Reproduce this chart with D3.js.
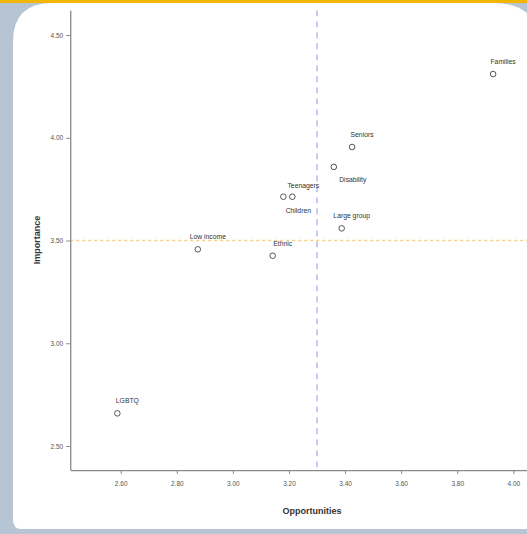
<!DOCTYPE html>
<html>
<head>
<meta charset="utf-8">
<script src="https://cdn.jsdelivr.net/npm/d3@7"></script>
<style>
  body { margin: 0; background: #b6c4d3; }
  svg { display: block; font-family: "Liberation Sans", Arial, sans-serif; }
</style>
</head>
<body>
<div id="chart"></div>
<script>
const w = 527,
  h = 534;

// groups (opportunities vs importance)
const groups = ["Families", "Seniors", "Disability", "Teenagers", "Children", "Large group", "Low income", "Ethnic", "LGBTQ"];
const opportunities = [3.928, 3.425, 3.36, 3.18, 3.212, 3.388, 2.875, 3.142, 2.588];
const importance = [4.31, 3.955, 3.858, 3.713, 3.713, 3.559, 3.457, 3.426, 2.659];
const labelPlace = ["above", "above", "belowRight", "aboveRight", "below", "above", "above", "above", "above"];

const xTicks = [2.6, 2.8, 3.0, 3.2, 3.4, 3.6, 3.8, 4.0];
const yTicks = [2.5, 3.0, 3.5, 4.0, 4.5];
const xRef = 3.3,
  yRef = 3.5;

const translateFn = (x, y = 0) => `translate(${x}, ${y})`;

const svg = d3.select("#chart").append("svg").attr("width", w).attr("height", h);

// frame
svg.append("rect").attr("width", w).attr("height", h).attr("fill", "#b6c4d3");
svg
  .append("path")
  .attr("d", "M13,42 Q13,3 52,3 L495,3 Q527,3 540,30 L540,529 L21,529 Q13,529 13,519 Z")
  .attr("fill", "#fff");
svg.append("rect").attr("width", w).attr("height", 3).attr("fill", "#f2b705");

// scales
const base = d3.scaleLinear().domain([2.6, 4.0]).range([120.7, 513.3]);
const xScale = d3
  .scaleLinear()
  .domain([2.42, 4.1])
  .range([base(2.42), base(4.1)]);
const baseY = d3.scaleLinear().domain([2.5, 4.5]).range([446, 35]);
const yScale = d3
  .scaleLinear()
  .domain([2.383, 4.62])
  .range([baseY(2.383), baseY(4.62)]);

const fmt = d3.format(".2f");

// reference lines
svg
  .append("line")
  .attr("x1", xScale(xRef))
  .attr("x2", xScale(xRef))
  .attr("y1", yScale(4.62))
  .attr("y2", yScale(2.383))
  .attr("stroke", "#8d98ea")
  .attr("stroke-width", 1)
  .attr("stroke-dasharray", "6,5");

svg
  .append("line")
  .attr("x1", xScale(2.42))
  .attr("x2", w)
  .attr("y1", yScale(yRef))
  .attr("y2", yScale(yRef))
  .attr("stroke", "#f8d08a")
  .attr("stroke-width", 1.3)
  .attr("stroke-dasharray", "3,3");

// axes
const xAxis = d3
  .axisBottom(xScale)
  .tickValues(xTicks)
  .tickFormat(fmt)
  .tickSize(4)
  .tickSizeOuter(0);
const yAxis = d3
  .axisLeft(yScale)
  .tickValues(yTicks)
  .tickFormat(fmt)
  .tickSize(4)
  .tickSizeOuter(0);

const gx = svg
  .append("g")
  .attr("transform", translateFn(0, yScale(2.383)))
  .call(xAxis);
const gy = svg
  .append("g")
  .attr("transform", translateFn(xScale(2.42), 0))
  .call(yAxis);

[gx, gy].forEach((g) => {
  g.select(".domain").attr("stroke", "#8a8a8a").attr("stroke-width", 1.3);
  g.selectAll(".tick line").attr("stroke", "#8a8a8a");
  g.selectAll(".tick text").attr("fill", "#555").style("font-size", "6.5px");
});
gx.selectAll(".tick text").attr("dy", "1.4em");

// axis titles
svg
  .append("text")
  .attr("x", 312)
  .attr("y", 514)
  .attr("text-anchor", "middle")
  .attr("font-weight", "bold")
  .attr("font-size", "9px")
  .attr("fill", "#333")
  .text("Opportunities");

svg
  .append("text")
  .attr("transform", "rotate(-90)")
  .attr("x", -240)
  .attr("y", 40)
  .attr("text-anchor", "middle")
  .attr("font-weight", "bold")
  .attr("font-size", "9px")
  .attr("fill", "#333")
  .text("Importance");

// points
const pts = svg
  .selectAll(".pt")
  .data(groups)
  .enter()
  .append("g")
  .attr("class", "pt")
  .attr("transform", (d, i) => translateFn(xScale(opportunities[i]), yScale(importance[i])));

pts
  .append("circle")
  .attr("r", 2.8)
  .attr("fill", "none")
  .attr("stroke", "#444")
  .attr("stroke-width", 0.9);

const offsets = {
  above: [10, -10],
  aboveRight: [20, -9],
  below: [6, 16],
  belowRight: [19, 15],
};

pts
  .append("text")
  .attr("x", (d, i) => offsets[labelPlace[i]][0])
  .attr("y", (d, i) => offsets[labelPlace[i]][1])
  .attr("text-anchor", "middle")
  .attr("font-size", "6.8px")
  .attr("fill", "#333")
  .text((d) => d);
</script>
</body>
</html>
